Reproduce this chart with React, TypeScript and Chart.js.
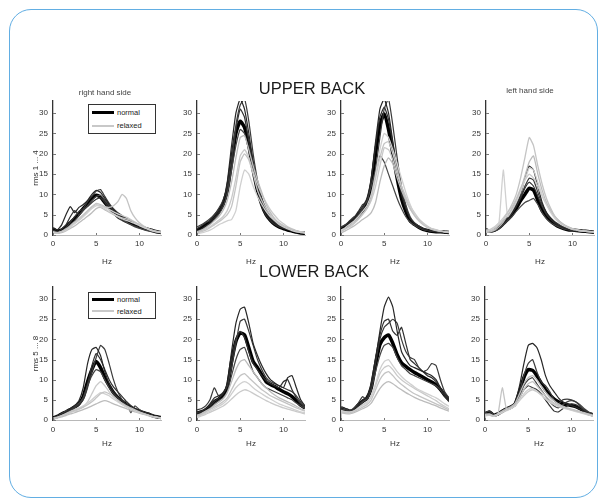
import React, { useEffect, useRef } from "react";
import { Chart, registerables } from "chart.js";

Chart.register(...registerables);
Chart.defaults.font.family = "'Liberation Sans', Arial, Helvetica, sans-serif";

// ---------- data ----------
const HZ = [0, 0.5, 1, 1.5, 2, 2.5, 3, 3.5, 4, 4.5, 5, 5.5, 6, 6.5, 7, 7.5, 8, 8.5, 9, 9.5, 10, 10.5, 11, 11.5, 12, 12.5];
const X_TICKS = [0, 5, 10];
const Y_TICKS = [0, 5, 10, 15, 20, 25, 30];

const ROW_TITLES = ["UPPER BACK", "LOWER BACK"];
const SIDE_TITLES = ["right hand side", "left hand side"];
const Y_LABELS = ["rms 1 ... 4", "rms 5 ... 8"];
const LEGEND_LABELS = ["normal", "relaxed"];

// Upper back, panel 1 (right hand side)
const U1_MEAN = [1.5, 1.0, 1.2, 2.0, 3.0, 4.0, 5.2, 6.5, 7.8, 9.0, 9.8, 9.3, 8.0, 6.8, 5.8, 5.0, 4.3, 3.7, 3.1, 2.6, 2.1, 1.7, 1.4, 1.1, 0.8, 0.6];
const U1_NORMAL = [
  [1.8, 1.2, 2.5, 5.0, 7.0, 5.5, 6.8, 7.5, 8.5, 10.0, 11.0, 10.5, 9.0, 7.5, 6.2, 5.2, 4.5, 3.8, 3.2, 2.7, 2.2, 1.8, 1.4, 1.0, 0.8, 0.6],
  [1.2, 0.8, 1.0, 1.8, 3.2, 4.5, 5.8, 6.5, 8.2, 9.5, 10.8, 11.2, 9.5, 7.8, 6.5, 5.5, 4.8, 4.0, 3.5, 2.8, 2.4, 1.9, 1.5, 1.2, 0.9, 0.7],
  [0.8, 0.5, 0.8, 1.5, 2.5, 3.5, 4.8, 6.0, 7.2, 8.5, 9.5, 9.8, 8.5, 7.2, 6.0, 5.0, 4.0, 3.2, 2.5, 2.0, 1.6, 1.3, 1.0, 0.8, 0.6, 0.5],
  [1.0, 0.7, 1.5, 2.5, 4.5, 6.0, 5.0, 6.2, 7.0, 8.0, 8.8, 9.2, 8.0, 6.5, 5.2, 4.2, 3.6, 3.0, 2.6, 2.2, 1.8, 1.4, 1.1, 0.9, 0.7, 0.5],
];
const U1_RELAXED = [
  [0.8, 0.6, 0.9, 1.5, 2.3, 3.2, 4.0, 5.0, 6.0, 7.0, 7.8, 7.5, 7.0, 6.8, 7.2, 8.2, 10.0, 9.0, 6.0, 4.2, 3.0, 2.2, 1.6, 1.2, 0.9, 0.7],
  [0.6, 0.5, 0.8, 1.2, 2.0, 2.8, 3.6, 4.5, 5.5, 6.5, 7.2, 7.0, 6.5, 5.8, 5.2, 4.6, 4.0, 3.6, 3.2, 2.8, 2.3, 1.8, 1.4, 1.0, 0.8, 0.6],
  [0.5, 0.4, 0.6, 1.0, 1.6, 2.2, 3.0, 3.8, 4.6, 5.5, 6.5, 6.8, 6.2, 5.6, 5.0, 4.5, 4.2, 4.0, 3.6, 3.0, 2.5, 2.0, 1.5, 1.1, 0.8, 0.6],
  [0.7, 0.5, 0.8, 1.3, 2.0, 2.9, 3.8, 4.8, 5.8, 6.8, 7.5, 7.2, 6.8, 6.3, 5.7, 5.2, 4.8, 4.4, 3.8, 3.2, 2.6, 2.0, 1.5, 1.1, 0.9, 0.7],
];

// Upper back, panel 2
const U2_MEAN = [1.2, 1.8, 2.5, 3.2, 4.5, 5.8, 7.5, 11.0, 18.0, 25.0, 28.0, 26.5, 22.0, 16.0, 11.0, 7.5, 5.0, 3.6, 2.6, 2.0, 1.6, 1.2, 1.0, 0.7, 0.5, 0.4];
const U2_NORMAL = [
  [1.0, 1.5, 2.2, 3.0, 4.2, 5.5, 8.0, 13.0, 22.0, 30.0, 33.5, 31.0, 25.0, 18.0, 12.0, 8.0, 5.5, 4.0, 3.0, 2.2, 1.8, 1.4, 1.0, 0.8, 0.6, 0.4],
  [2.0, 2.5, 3.2, 4.0, 5.0, 6.5, 8.5, 12.0, 19.0, 27.0, 32.0, 33.5, 28.0, 20.0, 13.5, 9.0, 6.0, 4.2, 3.2, 2.5, 2.0, 1.5, 1.2, 0.9, 0.7, 0.5],
  [0.8, 1.2, 2.0, 2.8, 3.8, 5.0, 6.8, 10.0, 16.0, 22.0, 26.0, 25.0, 21.0, 16.5, 12.5, 9.0, 6.5, 4.5, 3.2, 2.4, 1.9, 1.5, 1.1, 0.8, 0.6, 0.5],
  [1.5, 2.2, 3.0, 3.5, 4.8, 6.0, 7.0, 10.5, 17.0, 26.0, 31.0, 29.0, 23.0, 17.0, 11.5, 7.0, 4.8, 3.5, 2.6, 2.0, 1.6, 1.3, 1.0, 0.8, 0.6, 0.5],
];
const U2_RELAXED = [
  [0.5, 0.8, 1.2, 1.8, 2.5, 3.2, 4.0, 5.0, 7.0, 12.0, 18.0, 20.0, 18.5, 15.0, 11.0, 8.5, 6.5, 5.0, 3.8, 2.8, 2.2, 1.7, 1.3, 1.0, 0.8, 0.6],
  [0.3, 0.5, 0.8, 1.2, 1.8, 2.5, 3.0, 3.5, 3.8, 6.0, 12.0, 16.0, 15.0, 12.0, 9.5, 7.5, 5.8, 4.5, 3.5, 2.6, 2.0, 1.5, 1.1, 0.8, 0.6, 0.4],
  [0.8, 1.2, 1.8, 2.5, 3.5, 4.5, 6.0, 8.5, 13.0, 19.0, 24.0, 24.5, 21.0, 17.0, 13.5, 10.5, 7.5, 5.5, 4.0, 3.0, 2.3, 1.8, 1.4, 1.0, 0.8, 0.6],
  [0.5, 1.0, 1.5, 2.0, 2.8, 3.6, 4.5, 6.0, 9.0, 14.0, 19.5, 21.0, 19.0, 15.5, 12.5, 10.0, 8.0, 6.2, 4.8, 3.6, 2.8, 2.0, 1.5, 1.1, 0.8, 0.6],
];

// Upper back, panel 3
const U3_MEAN = [1.5, 2.0, 3.0, 3.8, 4.8, 6.0, 7.8, 12.0, 20.0, 27.0, 29.8, 26.0, 20.0, 14.0, 9.0, 5.8, 3.5, 2.6, 1.9, 1.4, 1.1, 0.9, 0.8, 0.8, 0.7, 0.6];
const U3_NORMAL = [
  [1.2, 2.0, 3.2, 4.0, 5.5, 7.0, 9.0, 14.0, 23.0, 31.0, 33.5, 30.0, 23.0, 16.0, 10.0, 6.5, 4.0, 2.8, 2.0, 1.5, 1.2, 1.0, 0.9, 0.8, 0.7, 0.6],
  [2.0, 2.5, 3.5, 4.5, 5.0, 6.2, 7.0, 10.0, 16.0, 24.0, 31.0, 33.5, 27.0, 19.0, 12.0, 7.5, 4.5, 3.0, 2.2, 1.6, 1.2, 1.0, 0.9, 0.8, 0.7, 0.6],
  [1.0, 1.8, 2.8, 3.5, 5.0, 6.5, 8.5, 12.0, 16.0, 19.5, 18.0, 15.0, 12.0, 9.0, 6.5, 4.5, 3.2, 2.4, 1.8, 1.4, 1.1, 0.9, 0.8, 0.7, 0.6, 0.5],
  [1.8, 2.5, 3.0, 4.2, 5.8, 7.5, 8.0, 13.5, 22.0, 29.0, 31.5, 28.5, 22.5, 16.5, 11.0, 7.0, 4.2, 3.0, 2.2, 1.6, 1.2, 1.0, 0.9, 0.8, 0.7, 0.6],
];
const U3_RELAXED = [
  [0.8, 1.5, 2.2, 3.0, 4.0, 5.2, 6.5, 9.0, 14.0, 19.0, 22.5, 23.0, 20.0, 16.0, 12.0, 9.0, 6.5, 4.8, 3.5, 2.5, 1.8, 1.4, 1.1, 0.9, 0.8, 0.7],
  [1.2, 1.8, 2.6, 3.4, 4.5, 5.8, 7.2, 10.0, 15.0, 21.0, 25.0, 24.0, 21.0, 17.5, 14.0, 10.5, 7.5, 5.2, 3.8, 2.8, 2.0, 1.5, 1.2, 1.0, 0.8, 0.7],
  [0.5, 1.0, 1.6, 2.2, 3.0, 3.8, 4.5, 5.5, 8.0, 13.0, 17.0, 19.0, 17.5, 14.0, 11.0, 8.5, 6.5, 5.0, 3.8, 2.8, 2.0, 1.5, 1.2, 1.0, 0.8, 0.6],
  [1.0, 1.5, 2.0, 2.8, 3.8, 5.0, 6.5, 8.5, 12.0, 17.0, 21.5, 21.0, 18.5, 15.0, 12.0, 9.5, 7.2, 5.5, 4.0, 3.0, 2.2, 1.6, 1.3, 1.0, 0.8, 0.7],
];

// Upper back, panel 4 (left hand side)
const U4_MEAN = [1.2, 1.0, 1.2, 1.8, 2.8, 3.8, 5.0, 6.5, 8.5, 10.0, 11.5, 11.0, 8.5, 6.0, 4.5, 3.4, 2.6, 2.0, 1.6, 1.3, 1.2, 1.1, 1.0, 0.9, 0.8, 0.7];
const U4_NORMAL = [
  [1.0, 0.8, 1.3, 2.0, 3.0, 4.2, 5.5, 7.5, 10.0, 14.0, 17.0, 16.0, 12.0, 8.0, 5.5, 4.0, 3.0, 2.2, 1.7, 1.4, 1.2, 1.1, 1.0, 0.9, 0.8, 0.7],
  [1.5, 1.2, 1.5, 2.2, 3.2, 4.5, 6.0, 7.8, 9.5, 12.0, 14.0, 13.5, 10.5, 7.5, 5.5, 4.2, 3.2, 2.5, 1.9, 1.5, 1.3, 1.1, 1.0, 0.9, 0.8, 0.7],
  [0.8, 0.7, 1.0, 1.5, 2.5, 3.5, 4.5, 5.8, 7.0, 8.0, 8.5, 9.0, 7.5, 5.5, 4.0, 3.0, 2.4, 1.9, 1.5, 1.3, 1.1, 1.0, 0.9, 0.8, 0.7, 0.6],
  [1.2, 1.0, 1.4, 2.0, 3.0, 4.0, 5.2, 7.0, 9.0, 11.5, 13.0, 12.0, 9.5, 7.0, 5.0, 3.8, 2.8, 2.1, 1.7, 1.4, 1.2, 1.1, 1.0, 0.9, 0.8, 0.7],
];
const U4_RELAXED = [
  [0.8, 1.0, 1.5, 2.5, 3.8, 5.5, 7.5, 10.0, 14.0, 19.0, 24.0, 22.0, 17.0, 12.5, 9.0, 6.5, 4.5, 3.2, 2.4, 1.8, 1.4, 1.2, 1.0, 0.9, 0.8, 0.7],
  [1.0, 1.2, 1.8, 3.0, 16.0, 4.5, 6.0, 8.0, 10.5, 13.5, 16.5, 16.0, 13.0, 10.0, 7.5, 5.5, 4.0, 3.0, 2.3, 1.8, 1.4, 1.2, 1.0, 0.9, 0.8, 0.7],
  [0.6, 0.8, 1.2, 2.0, 3.2, 4.8, 6.5, 8.5, 11.0, 14.5, 18.0, 19.5, 15.0, 11.0, 8.0, 6.0, 4.5, 3.4, 2.6, 2.0, 1.6, 1.3, 1.1, 1.0, 0.9, 0.8],
  [1.2, 1.4, 2.0, 3.0, 4.2, 5.6, 7.0, 9.0, 11.5, 13.5, 15.0, 14.0, 12.0, 9.5, 7.5, 5.8, 4.4, 3.4, 2.6, 2.0, 1.6, 1.3, 1.1, 1.0, 0.9, 0.8],
];

// Lower back, panel 1 (right hand side)
const L1_MEAN = [0.5, 0.9, 1.5, 2.0, 2.6, 3.2, 4.0, 5.8, 9.5, 12.5, 14.5, 13.0, 10.5, 8.5, 6.8, 5.6, 4.6, 3.8, 3.1, 2.6, 2.2, 1.8, 1.5, 1.1, 0.8, 0.6];
const L1_NORMAL = [
  [0.5, 0.9, 1.4, 2.0, 2.8, 3.6, 4.8, 8.0, 14.0, 17.5, 18.0, 16.0, 12.0, 9.0, 7.0, 5.8, 4.8, 3.9, 3.2, 2.7, 2.3, 1.9, 1.6, 1.2, 0.9, 0.7],
  [0.4, 0.8, 1.3, 1.8, 2.4, 3.0, 3.8, 5.0, 8.0, 12.0, 15.5, 18.5, 17.5, 14.0, 10.0, 7.0, 5.0, 3.5, 2.8, 2.4, 2.0, 1.7, 1.4, 1.0, 0.8, 0.6],
  [0.6, 1.0, 1.6, 2.2, 2.8, 3.4, 4.2, 5.5, 8.5, 11.0, 12.5, 12.0, 10.0, 8.0, 6.5, 5.5, 4.8, 4.5, 1.8, 3.5, 2.6, 2.0, 1.6, 1.2, 0.9, 0.7],
  [0.5, 0.9, 1.4, 1.9, 2.5, 3.1, 3.9, 5.5, 9.0, 13.5, 16.5, 15.0, 12.5, 10.0, 8.2, 7.0, 5.8, 4.6, 3.6, 2.8, 2.3, 1.9, 1.5, 1.1, 0.8, 0.6],
];
const L1_RELAXED = [
  [0.3, 0.6, 1.0, 1.5, 2.0, 2.4, 2.8, 3.2, 3.8, 4.5, 5.5, 6.5, 7.0, 6.5, 5.8, 5.0, 4.2, 3.5, 3.0, 2.5, 2.0, 1.6, 1.2, 0.9, 0.7, 0.5],
  [0.4, 0.7, 1.1, 1.6, 2.1, 2.6, 3.0, 3.5, 4.2, 5.0, 6.0, 6.8, 6.5, 6.0, 5.2, 4.5, 3.8, 3.2, 2.7, 2.2, 1.8, 1.5, 1.2, 0.9, 0.7, 0.5],
  [0.2, 0.5, 0.8, 1.1, 1.5, 1.8, 2.2, 2.6, 3.0, 3.5, 4.0, 4.5, 4.8, 4.5, 4.0, 3.6, 3.2, 2.8, 2.4, 2.0, 1.7, 1.4, 1.1, 0.8, 0.6, 0.4],
  [0.3, 0.6, 0.9, 1.3, 1.8, 2.2, 2.6, 3.2, 4.5, 6.5, 8.5, 9.5, 8.5, 7.0, 5.8, 4.8, 4.0, 3.3, 2.8, 2.3, 1.9, 1.5, 1.2, 0.9, 0.7, 0.5],
];

// Lower back, panel 2
const L2_MEAN = [1.7, 2.0, 2.5, 3.4, 4.5, 5.2, 6.2, 8.0, 14.5, 19.5, 21.6, 21.1, 17.9, 14.5, 13.0, 11.2, 9.5, 8.8, 8.3, 7.6, 7.0, 6.5, 5.8, 4.8, 3.7, 3.0];
const L2_NORMAL = [
  [1.5, 2.0, 2.8, 4.0, 5.5, 6.0, 6.5, 9.0, 17.0, 24.0, 27.5, 28.0, 24.0, 19.0, 16.0, 13.5, 11.5, 10.0, 9.2, 8.5, 8.0, 10.5, 11.0, 8.0, 5.0, 3.5],
  [2.5, 2.8, 3.5, 5.0, 8.0, 6.0, 6.8, 8.5, 13.0, 19.0, 24.5, 25.0, 22.0, 18.5, 15.0, 12.5, 10.5, 9.5, 9.0, 8.5, 8.0, 7.5, 7.0, 6.0, 4.5, 3.2],
  [1.2, 1.6, 2.2, 3.0, 4.0, 4.8, 5.5, 7.0, 11.0, 15.0, 17.5, 18.0, 15.0, 12.0, 10.5, 9.0, 8.0, 7.5, 7.0, 6.5, 6.0, 5.5, 5.0, 4.2, 3.5, 2.8],
  [1.8, 2.2, 2.8, 3.6, 4.6, 5.4, 6.4, 8.5, 15.0, 20.0, 22.0, 20.5, 17.0, 14.0, 12.5, 11.0, 9.8, 9.0, 8.5, 8.0, 9.5, 10.0, 7.5, 5.5, 4.0, 3.0],
];
const L2_RELAXED = [
  [1.0, 1.4, 2.0, 2.6, 3.2, 3.8, 4.5, 5.5, 7.5, 9.5, 11.0, 11.5, 10.5, 9.5, 8.5, 7.5, 6.8, 6.0, 5.5, 5.0, 4.5, 4.0, 3.5, 3.0, 2.6, 2.2],
  [0.8, 1.2, 1.7, 2.2, 2.8, 3.4, 4.0, 5.0, 6.5, 8.0, 9.0, 9.5, 9.0, 8.0, 7.2, 6.5, 5.8, 5.2, 4.6, 4.0, 3.6, 3.2, 2.8, 2.4, 2.0, 1.8],
  [1.2, 1.6, 2.2, 2.8, 3.6, 4.4, 5.2, 6.8, 9.5, 12.5, 14.5, 15.0, 13.5, 12.0, 10.5, 9.0, 8.0, 7.0, 6.2, 5.5, 5.0, 4.5, 4.0, 3.4, 2.8, 2.4],
  [0.6, 1.0, 1.4, 1.9, 2.4, 2.9, 3.4, 4.2, 5.2, 6.2, 7.0, 7.5, 7.2, 6.6, 6.0, 5.4, 4.8, 4.3, 3.8, 3.4, 3.0, 2.7, 2.4, 2.1, 1.8, 1.5],
];

// Lower back, panel 3
const L3_MEAN = [3.0, 2.6, 2.2, 2.5, 3.7, 4.6, 5.4, 8.0, 13.7, 18.7, 20.4, 21.1, 19.0, 16.2, 14.2, 13.3, 12.5, 11.8, 11.2, 10.6, 10.0, 9.4, 8.7, 7.6, 6.2, 5.0];
const L3_NORMAL = [
  [2.5, 2.2, 2.0, 2.5, 3.5, 5.0, 5.5, 8.5, 15.0, 22.0, 28.0, 30.5, 28.0, 22.0, 17.0, 15.0, 13.5, 13.0, 12.5, 12.0, 11.5, 11.0, 10.0, 8.0, 6.0, 4.8],
  [3.2, 2.8, 2.4, 3.0, 4.2, 5.8, 5.0, 8.0, 14.0, 20.0, 23.0, 24.0, 25.0, 24.0, 20.0, 17.0, 15.5, 15.0, 13.0, 12.0, 12.5, 14.0, 13.5, 10.0, 7.0, 5.5],
  [2.8, 2.5, 2.2, 2.6, 3.6, 4.5, 5.2, 7.5, 12.0, 16.0, 18.5, 19.0, 18.0, 15.5, 13.5, 12.5, 11.5, 11.0, 10.5, 10.0, 9.5, 9.0, 8.5, 7.5, 6.0, 4.5],
  [2.6, 2.3, 2.0, 2.4, 3.4, 4.4, 5.6, 9.0, 15.5, 21.0, 24.5, 25.0, 22.0, 21.0, 23.0, 19.0, 15.0, 14.0, 13.0, 12.0, 11.0, 10.5, 9.5, 8.0, 6.5, 5.0],
];
const L3_RELAXED = [
  [2.0, 1.8, 1.7, 2.0, 2.6, 3.2, 3.8, 5.0, 7.5, 10.0, 11.5, 12.0, 11.0, 9.8, 8.8, 8.0, 7.2, 6.5, 6.0, 5.5, 5.0, 4.5, 4.0, 3.5, 3.0, 2.5],
  [2.2, 2.0, 1.9, 2.2, 3.0, 3.6, 4.2, 6.0, 9.0, 12.5, 14.5, 15.0, 13.5, 12.0, 10.8, 9.8, 9.0, 8.2, 7.5, 7.0, 6.5, 6.0, 5.5, 4.8, 4.0, 3.4],
  [1.8, 1.6, 1.5, 1.8, 2.3, 2.8, 3.3, 4.2, 6.0, 7.8, 9.0, 9.5, 9.0, 8.2, 7.5, 6.8, 6.2, 5.6, 5.1, 4.7, 4.3, 3.9, 3.5, 3.0, 2.6, 2.2],
  [2.4, 2.1, 2.0, 2.3, 3.0, 3.8, 4.5, 5.8, 8.5, 11.5, 13.0, 13.5, 12.5, 11.0, 10.0, 9.2, 8.5, 7.8, 7.2, 6.6, 6.0, 5.4, 4.8, 4.0, 3.4, 2.8],
];

// Lower back, panel 4 (left hand side)
const L4_MEAN = [1.5, 2.0, 1.2, 1.5, 2.2, 2.8, 3.2, 4.0, 7.0, 10.5, 12.5, 12.3, 11.0, 9.2, 7.5, 6.2, 5.2, 4.5, 4.0, 3.8, 3.6, 3.3, 2.8, 2.2, 1.6, 1.3];
const L4_NORMAL = [
  [1.2, 1.8, 1.0, 1.4, 2.0, 2.6, 3.0, 4.5, 8.5, 14.0, 18.5, 19.0, 18.0, 15.0, 11.0, 8.5, 7.0, 5.5, 4.5, 4.0, 3.6, 3.2, 2.7, 2.1, 1.6, 1.2],
  [1.8, 2.2, 1.4, 1.6, 2.4, 3.0, 3.4, 4.0, 7.0, 11.0, 14.0, 15.0, 12.0, 9.5, 8.5, 7.0, 5.0, 4.0, 5.0, 5.2, 5.0, 4.5, 3.5, 2.5, 1.8, 1.4],
  [1.5, 1.6, 1.1, 1.5, 2.2, 2.8, 3.2, 3.8, 6.0, 8.5, 10.0, 10.5, 9.0, 7.5, 6.0, 4.5, 3.5, 3.0, 3.8, 4.5, 4.8, 4.5, 3.8, 2.8, 2.0, 1.5],
  [1.3, 1.5, 1.0, 1.4, 2.1, 2.7, 3.1, 3.6, 5.5, 7.5, 8.5, 8.0, 7.5, 6.5, 5.0, 3.5, 2.2, 2.0, 2.8, 3.5, 4.0, 3.8, 3.2, 2.4, 1.7, 1.2],
];
const L4_RELAXED = [
  [1.2, 1.3, 1.0, 1.5, 8.0, 2.5, 3.0, 3.8, 5.5, 7.5, 9.0, 9.5, 8.5, 7.2, 6.0, 5.0, 4.2, 3.6, 3.2, 2.9, 2.6, 2.3, 2.0, 1.7, 1.4, 1.1],
  [1.0, 1.2, 0.9, 1.3, 1.8, 2.3, 2.8, 3.5, 5.0, 6.5, 7.5, 7.8, 7.2, 6.2, 5.2, 4.4, 3.8, 3.3, 3.0, 2.7, 2.4, 2.1, 1.8, 1.5, 1.2, 1.0],
  [1.4, 1.5, 1.1, 1.6, 2.2, 2.8, 3.3, 4.2, 6.5, 9.0, 10.5, 11.0, 10.0, 8.5, 7.0, 5.8, 4.8, 4.0, 3.4, 3.0, 2.7, 2.4, 2.1, 1.8, 1.5, 1.2],
  [1.1, 1.2, 0.9, 1.4, 2.0, 2.5, 3.0, 3.6, 4.8, 6.0, 7.0, 7.5, 7.0, 6.2, 5.4, 4.6, 4.0, 3.5, 3.1, 2.8, 2.5, 2.2, 1.9, 1.6, 1.3, 1.0],
];

// ---------- styling ----------
const NORMAL_COLORS = ["#262626", "#3a3a3a", "#444444", "#303030"];
const RELAXED_COLORS = ["#c4c4c4", "#d0d0d0", "#bcbcbc", "#cacaca"];
const FONT = "'Liberation Sans', Arial, Helvetica, sans-serif";

const Y_AXIS_W = 40;
const PAD_TOP = 12;
const PAD_RIGHT = 6;
const PLOT_W = 108;

const innerTicks = {
  id: "innerTicks",
  afterDatasetsDraw(chart: any) {
    const { ctx, chartArea, scales } = chart;
    const x = scales.x;
    const y = scales.y;
    ctx.save();
    ctx.strokeStyle = "#777";
    ctx.lineWidth = 1;
    for (const t of y.ticks) {
      const py = Math.round(y.getPixelForValue(t.value)) + 0.5;
      ctx.beginPath();
      ctx.moveTo(chartArea.left, py);
      ctx.lineTo(chartArea.left + 3, py);
      ctx.stroke();
    }
    for (const t of x.ticks) {
      const px = Math.round(x.getPixelForValue(t.value)) + 0.5;
      ctx.beginPath();
      ctx.moveTo(px, chartArea.bottom);
      ctx.lineTo(px, chartArea.bottom - 2);
      ctx.stroke();
    }
    ctx.restore();
  },
};

type PanelProps = {
  left: number;
  top: number;
  plotH: number;
  axisH: number;
  tickPad: number;
  mean: number[];
  normal: number[][];
  relaxed: number[][];
  yTitle?: string;
};

function Panel({ left, top, plotH, axisH, tickPad, mean, normal, relaxed, yTitle }: PanelProps) {
  const ref = useRef<HTMLCanvasElement>(null);
  const width = Y_AXIS_W + PLOT_W + PAD_RIGHT;
  const height = PAD_TOP + plotH + axisH;

  useEffect(() => {
    if (!ref.current) return;
    const toPts = (arr: number[]) => HZ.map((x, i) => ({ x, y: arr[i] }));
    const datasets: any[] = [
      ...relaxed.map((r, i) => ({
        label: LEGEND_LABELS[1],
        data: toPts(r),
        borderColor: RELAXED_COLORS[i % RELAXED_COLORS.length],
        borderWidth: 1.3,
        pointRadius: 0,
        tension: 0.15,
      })),
      ...normal.map((r, i) => ({
        label: LEGEND_LABELS[0],
        data: toPts(r),
        borderColor: NORMAL_COLORS[i % NORMAL_COLORS.length],
        borderWidth: 1.2,
        pointRadius: 0,
        tension: 0.15,
      })),
      {
        label: LEGEND_LABELS[0],
        data: toPts(mean),
        borderColor: "#000",
        borderWidth: 3.5,
        pointRadius: 0,
        tension: 0.2,
      },
    ];
    const chart = new Chart(ref.current, {
      type: "line",
      data: { datasets },
      plugins: [innerTicks],
      options: {
        animation: false,
        responsive: false,
        devicePixelRatio: 1,
        layout: { padding: { top: PAD_TOP, right: PAD_RIGHT, bottom: 0, left: 0 } },
        plugins: { legend: { display: false }, tooltip: { enabled: false } },
        scales: {
          x: {
            type: "linear",
            min: 0,
            max: 12.5,
            afterBuildTicks: (s: any) => {
              s.ticks = X_TICKS.map((v) => ({ value: v }));
            },
            afterFit: (s: any) => {
              s.height = axisH;
            },
            grid: { display: false, drawTicks: false },
            border: { display: true, color: "#b8b8b8", width: 1, dash: [2, 2] },
            ticks: { padding: tickPad, color: "#333", font: { size: 8, family: FONT } },
            title: { display: true, text: "Hz", color: "#333", font: { size: 8, family: FONT }, padding: 0 },
          },
          y: {
            type: "linear",
            min: 0,
            max: 33,
            afterBuildTicks: (s: any) => {
              s.ticks = Y_TICKS.map((v) => ({ value: v }));
            },
            afterFit: (s: any) => {
              s.width = Y_AXIS_W;
            },
            grid: { display: false, drawTicks: false },
            border: { display: true, color: "#333", width: 1.3 },
            ticks: { padding: 5, color: "#333", font: { size: 8, family: FONT } },
            title: {
              display: !!yTitle,
              text: yTitle || "",
              color: "#333",
              font: { size: 8, family: FONT },
              padding: { top: 18, bottom: 0 },
            },
          },
        },
      } as any,
    });
    return () => chart.destroy();
  }, []);

  return (
    <canvas
      ref={ref}
      width={width}
      height={height}
      style={{ position: "absolute", left, top, width, height }}
    />
  );
}

function Legend({ left, top, h }: { left: number; top: number; h: number }) {
  const row = (label: string, color: string, lw: number) => (
    <div style={{ display: "flex", alignItems: "center", height: (h - 4) / 2 }}>
      <div style={{ width: 22, height: lw, background: color, marginRight: 3 }} />
      <span style={{ fontSize: 7.5, color: "#222", fontFamily: FONT, lineHeight: 1 }}>{label}</span>
    </div>
  );
  return (
    <div
      style={{
        position: "absolute",
        left,
        top,
        width: 68,
        height: h,
        boxSizing: "border-box",
        border: "1px solid #333",
        background: "#fff",
        padding: "1px 3px",
      }}
    >
      {row(LEGEND_LABELS[0], "#000", 3)}
      {row(LEGEND_LABELS[1], "#c8c8c8", 2)}
    </div>
  );
}

const UPPER_LEFTS = [53, 197, 341, 486];
const LOWER_LEFTS = [53, 197, 341, 485];

export default function App() {
  const upper = [
    [U1_MEAN, U1_NORMAL, U1_RELAXED],
    [U2_MEAN, U2_NORMAL, U2_RELAXED],
    [U3_MEAN, U3_NORMAL, U3_RELAXED],
    [U4_MEAN, U4_NORMAL, U4_RELAXED],
  ] as const;
  const lower = [
    [L1_MEAN, L1_NORMAL, L1_RELAXED],
    [L2_MEAN, L2_NORMAL, L2_RELAXED],
    [L3_MEAN, L3_NORMAL, L3_RELAXED],
    [L4_MEAN, L4_NORMAL, L4_RELAXED],
  ] as const;

  const text = (s: string, cx: number, cy: number, size: number, color = "#1a1a1a") => (
    <div
      style={{
        position: "absolute",
        left: cx,
        top: cy,
        transform: "translate(-50%, -50%)",
        whiteSpace: "nowrap",
        fontFamily: FONT,
        fontSize: size,
        color,
        lineHeight: 1,
      }}
    >
      {s}
    </div>
  );

  return (
    <div style={{ position: "absolute", left: 0, top: 0, width: 601, height: 503, background: "#fff", overflow: "hidden" }}>
      <div
        style={{
          position: "absolute",
          left: 9,
          top: 9,
          width: 589,
          height: 489,
          boxSizing: "border-box",
          border: "1.5px solid #62aee3",
          borderRadius: 22,
        }}
      />
      {upper.map(([m, n, r], i) => (
        <Panel
          key={"u" + i}
          left={UPPER_LEFTS[i] - Y_AXIS_W}
          top={101 - PAD_TOP}
          plotH={134}
          axisH={32}
          tickPad={4}
          mean={m as number[]}
          normal={n as number[][]}
          relaxed={r as number[][]}
          yTitle={i === 0 ? Y_LABELS[0] : undefined}
        />
      ))}
      {lower.map(([m, n, r], i) => (
        <Panel
          key={"l" + i}
          left={LOWER_LEFTS[i] - Y_AXIS_W}
          top={287 - PAD_TOP}
          plotH={133}
          axisH={29}
          tickPad={5}
          mean={m as number[]}
          normal={n as number[][]}
          relaxed={r as number[][]}
          yTitle={i === 0 ? Y_LABELS[1] : undefined}
        />
      ))}
      {text(ROW_TITLES[0], 312, 88, 16.5)}
      {text(ROW_TITLES[1], 314, 271, 16.5)}
      {text(SIDE_TITLES[0], 105, 92.5, 8, "#444")}
      {text(SIDE_TITLES[1], 530, 91, 8, "#444")}
      <Legend left={88} top={104} h={30} />
      <Legend left={88} top={292} h={27} />
    </div>
  );
}
